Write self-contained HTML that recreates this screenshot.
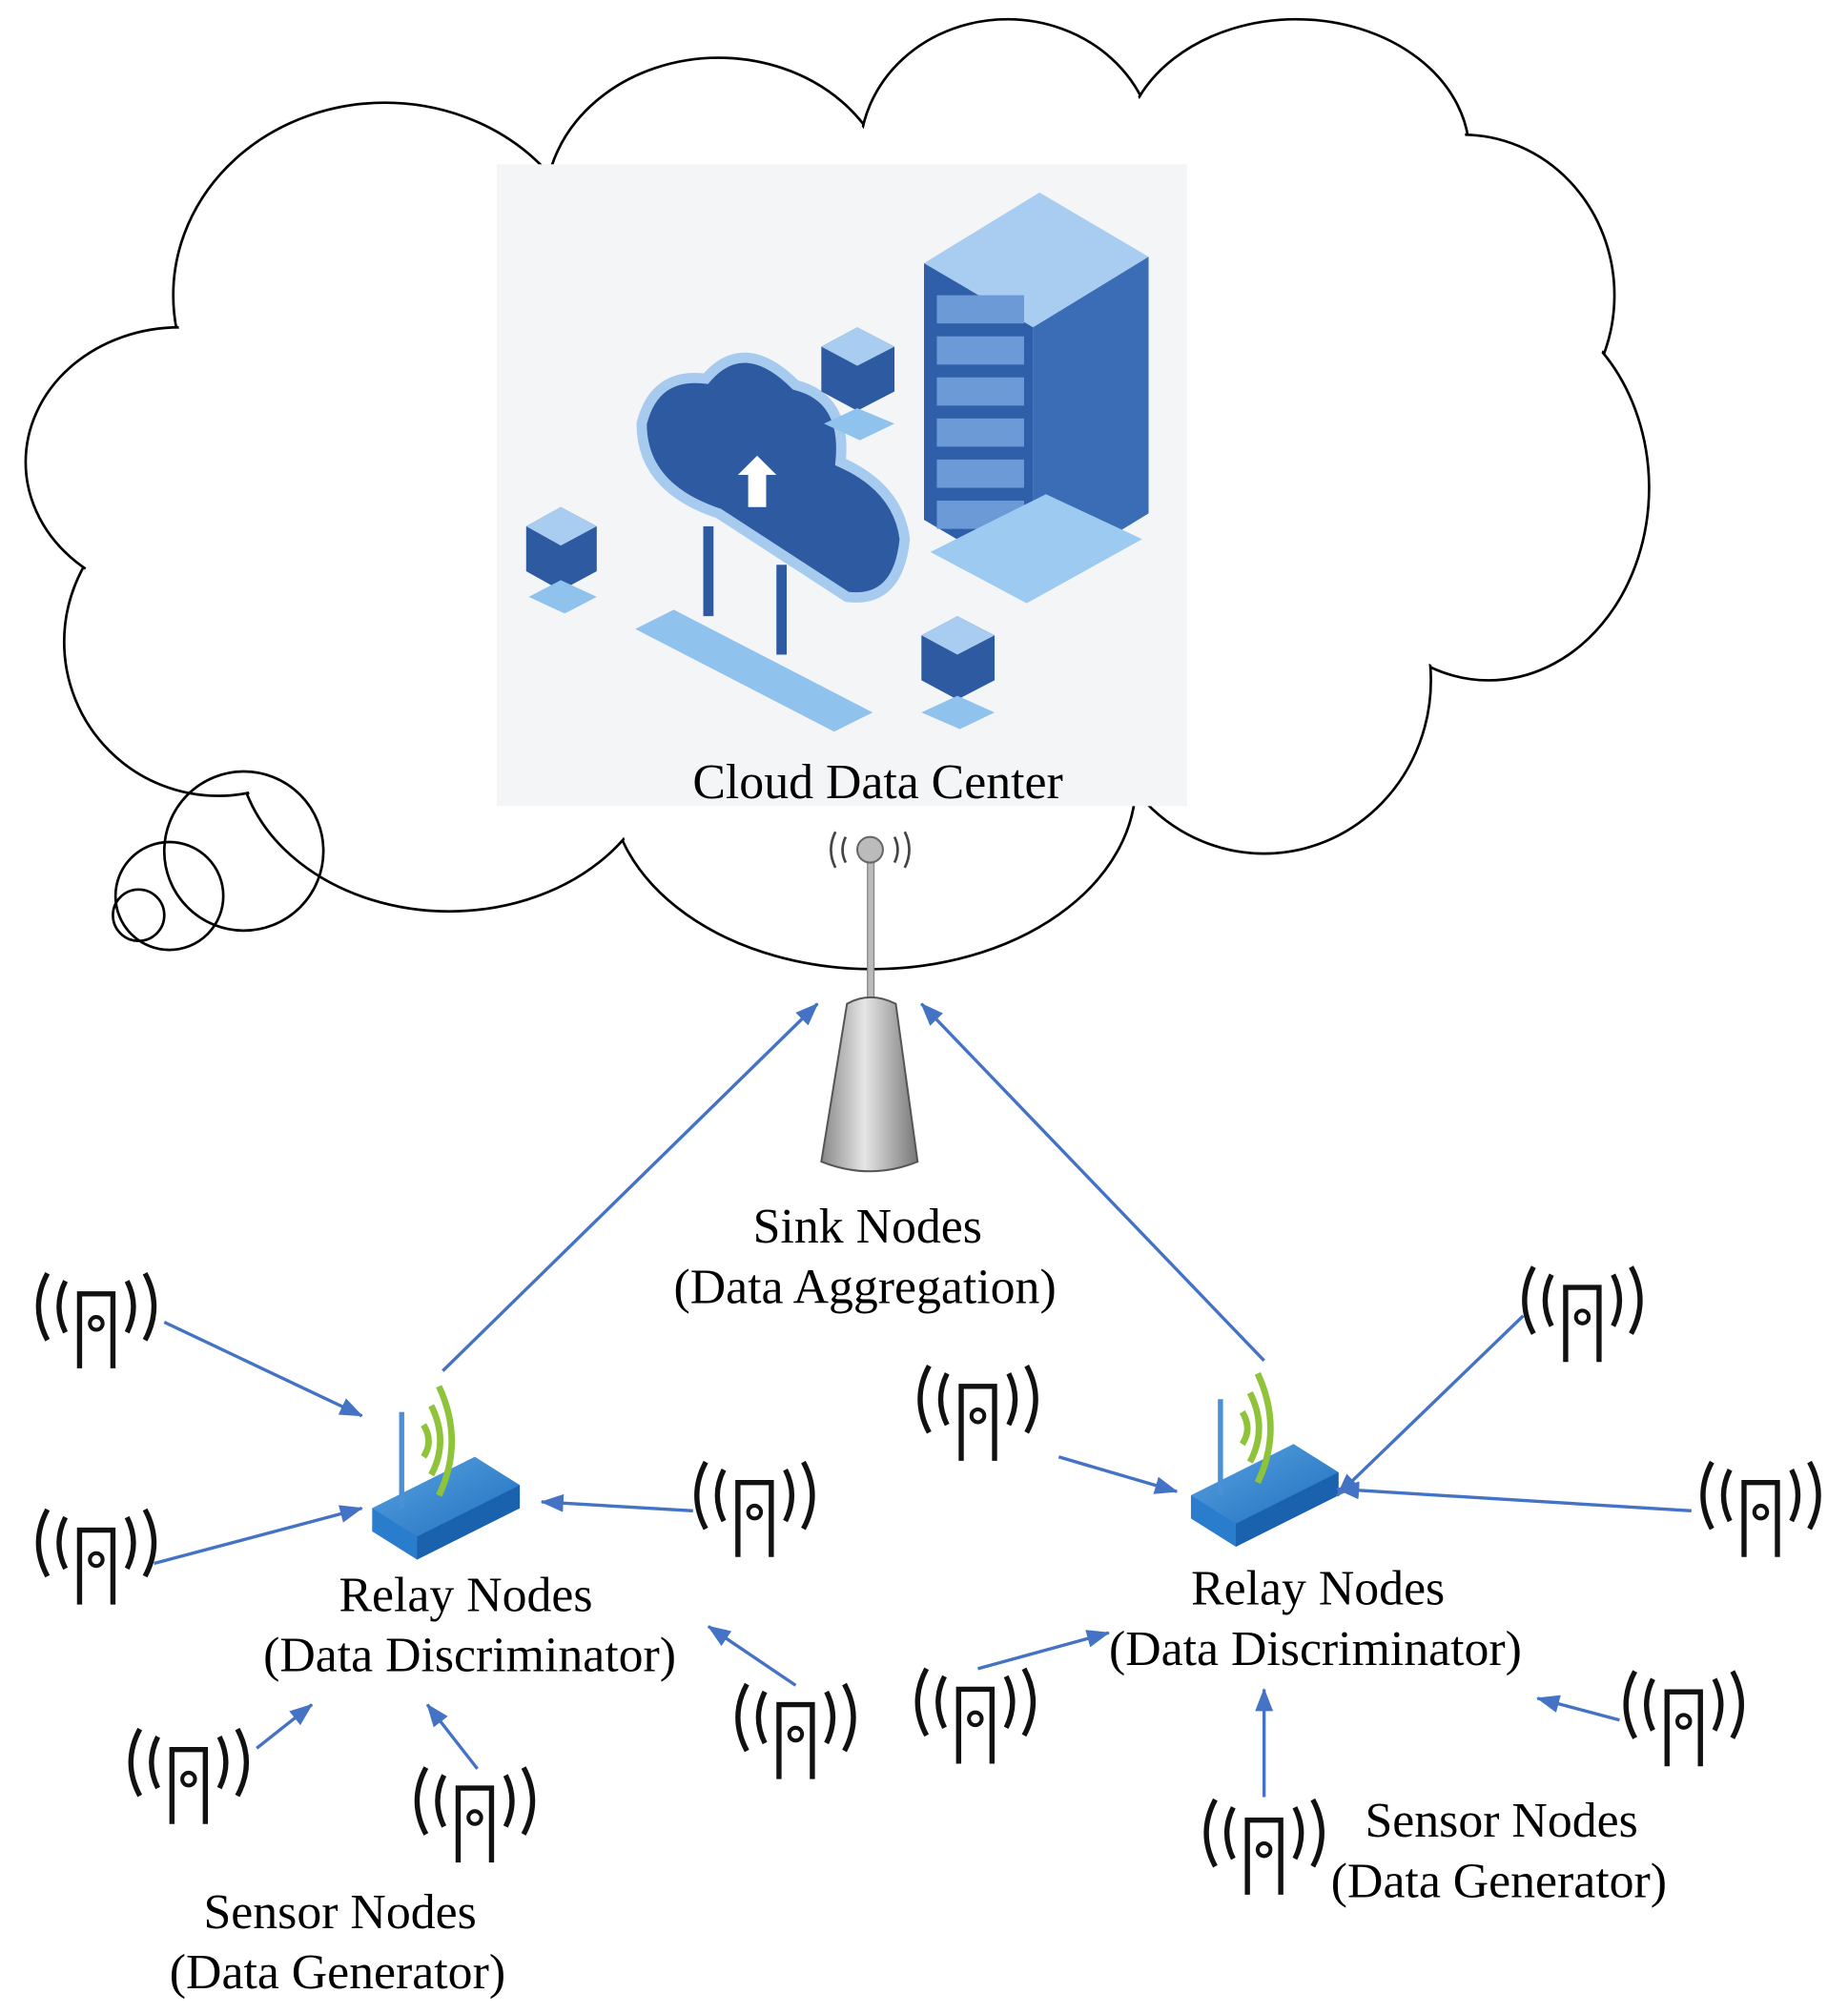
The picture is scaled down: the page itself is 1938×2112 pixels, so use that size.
<!DOCTYPE html>
<html><head><meta charset="utf-8"><style>html,body{margin:0;padding:0;background:#fff}svg{display:block}text{font-family:"Liberation Serif",serif;font-size:38.5px;fill:#000}</style></head><body>
<svg width="1938" height="2112" viewBox="0 0 1440 1569" preserveAspectRatio="none" xmlns="http://www.w3.org/2000/svg">
<defs>
<marker id="ah" markerWidth="18" markerHeight="14" refX="17" refY="7" orient="auto" markerUnits="userSpaceOnUse" viewBox="0 0 18 14"><path d="M0,0 L18,7 L0,14 z" fill="#4472c4"/></marker>
<linearGradient id="cone" x1="0" x2="1"><stop offset="0" stop-color="#888"/><stop offset="0.45" stop-color="#e6e6e6"/><stop offset="1" stop-color="#777"/></linearGradient>
<linearGradient id="rt" x1="0" x2="1" y1="0" y2="1"><stop offset="0" stop-color="#5aa3e0"/><stop offset="1" stop-color="#1f6fc0"/></linearGradient>
<g id="sensor" fill="none" stroke="#111" stroke-width="4">
<path d="M-13,58 V0 H13 V58"/><circle cx="0" cy="23" r="5" stroke-width="3"/>
<path d="M-24,-10 Q-34,10 -24,30"/><path d="M-38,-16 Q-52,10 -38,36"/>
<path d="M24,-10 Q34,10 24,30"/><path d="M38,-16 Q52,10 38,36"/>
</g>
<g id="router">
<path d="M0,40 L80,0 L115,22 L115,40 L35,80 L0,58 z" fill="#2a7ccc"/>
<path d="M0,40 L80,0 L115,22 L35,62 z" fill="url(#rt)"/>
<path d="M35,62 L115,22 L115,40 L35,80 z" fill="#1b62ae"/>
<rect x="21" y="-35" width="4" height="75" fill="#4a90d8"/>
<g fill="none" stroke="#8ec33a" stroke-width="5"><path d="M40,-25 Q48,-12 40,0"/><path d="M46,-40 Q60,-12 46,14"/><path d="M52,-55 Q72,-12 52,30"/></g>
</g>
</defs>
<g fill="#fff" stroke="#000" stroke-width="2">
<ellipse cx="300" cy="230" rx="165" ry="150"/><ellipse cx="560" cy="160" rx="135" ry="115"/><ellipse cx="785" cy="120" rx="115" ry="105"/><ellipse cx="1010" cy="120" rx="135" ry="105"/><ellipse cx="1140" cy="230" rx="118" ry="125"/><ellipse cx="1160" cy="380" rx="125" ry="150"/><ellipse cx="985" cy="530" rx="130" ry="135"/><ellipse cx="680" cy="610" rx="205" ry="145"/><ellipse cx="350" cy="580" rx="165" ry="130"/><ellipse cx="170" cy="500" rx="120" ry="120"/><ellipse cx="140" cy="360" rx="120" ry="105"/>
</g>
<g fill="#fff"><ellipse cx="300" cy="230" rx="163" ry="148"/><ellipse cx="560" cy="160" rx="133" ry="113"/><ellipse cx="785" cy="120" rx="113" ry="103"/><ellipse cx="1010" cy="120" rx="133" ry="103"/><ellipse cx="1140" cy="230" rx="116" ry="123"/><ellipse cx="1160" cy="380" rx="123" ry="148"/><ellipse cx="985" cy="530" rx="128" ry="133"/><ellipse cx="680" cy="610" rx="203" ry="143"/><ellipse cx="350" cy="580" rx="163" ry="128"/><ellipse cx="170" cy="500" rx="118" ry="118"/><ellipse cx="140" cy="360" rx="118" ry="103"/><rect x="200" y="150" width="880" height="450"/></g>
<g fill="none" stroke="#000" stroke-width="2"><circle cx="190" cy="663" r="62"/><circle cx="132" cy="698" r="42"/><circle cx="108" cy="713" r="20"/></g>
<rect x="387" y="128" width="538" height="500" fill="#f4f5f6"/>
<g>
<path d="M720,205 L810,150 L895,200 L805,255 z" fill="#a9cdf0"/>
<path d="M720,205 L805,255 L805,455 L720,405 z" fill="#2f5fa8"/>
<path d="M805,255 L895,200 L895,400 L805,455 z" fill="#3a6db5"/>
<g fill="#6b9ad6"><rect x="730" y="230" width="68" height="22"/><rect x="730" y="262" width="68" height="22"/><rect x="730" y="294" width="68" height="22"/><rect x="730" y="326" width="68" height="22"/><rect x="730" y="358" width="68" height="22"/><rect x="730" y="390" width="68" height="22"/></g>
<path d="M725,430 L800,470 L890,420 L815,385 z" fill="#9dcaf0"/>
<path d="M500,330 Q510,290 550,295 Q580,260 620,300 Q660,310 655,360 Q700,380 705,420 Q700,470 660,465 L560,400 Q500,380 500,330 z" fill="#2d5aa0" stroke="#a6cbef" stroke-width="8"/>
<path d="M575,370 L590,355 L605,370 L597,370 L597,395 L583,395 L583,370 z" fill="#fff"/>
<rect x="548" y="410" width="8" height="70" fill="#2d5aa0"/><rect x="605" y="440" width="8" height="70" fill="#2d5aa0"/>
<path d="M495,490 L525,475 L680,555 L650,570 z" fill="#8fc2ec"/>
<path d="M410,410 L437,395 L465,410 L465,445 L437,460 L410,445 z" fill="#2d5aa0"/><path d="M410,410 L437,395 L465,410 L437,425 z" fill="#a9cdf0"/>
<path d="M640,270 L668,255 L697,270 L697,305 L668,320 L640,305 z" fill="#2d5aa0"/><path d="M640,270 L668,255 L697,270 L668,285 z" fill="#a9cdf0"/>
<path d="M718,495 L746,480 L775,495 L775,530 L746,545 L718,530 z" fill="#2d5aa0"/><path d="M718,495 L746,480 L775,495 L746,510 z" fill="#a9cdf0"/>
<path d="M412,465 L437,452 L465,465 L440,478 z M718,555 L746,542 L775,555 L748,568 z M642,330 L668,318 L697,330 L670,343 z" fill="#8fc2ec"/>
</g>
<text x="684" y="622" text-anchor="middle">Cloud Data Center</text>
<g fill="none" stroke="#444" stroke-width="2"><path d="M659,652 Q654,662 659,672"/><path d="M697,652 Q702,662 697,672"/><path d="M651,648 Q644,662 651,676"/><path d="M705,648 Q712,662 705,676"/></g>
<rect x="676" y="668" width="5" height="115" fill="#bbb" stroke="#888" stroke-width="1"/>
<circle cx="678" cy="662" r="10" fill="#bbb" stroke="#666" stroke-width="1.5"/>
<path d="M660,782 Q678,772 698,782 L715,905 Q678,920 640,905 z" fill="url(#cone)" stroke="#555" stroke-width="1.5"/>
<text x="676" y="968" text-anchor="middle">Sink Nodes</text>
<text x="674" y="1015" text-anchor="middle">(Data Aggregation)</text>
<use href="#router" x="290" y="1135"/>
<use href="#router" x="928" y="1125"/>
<text x="363" y="1255" text-anchor="middle">Relay Nodes</text>
<text x="366" y="1302" text-anchor="middle">(Data Discriminator)</text>
<text x="1027" y="1250" text-anchor="middle">Relay Nodes</text>
<text x="1025" y="1297" text-anchor="middle">(Data Discriminator)</text>
<text x="265" y="1502" text-anchor="middle">Sensor Nodes</text>
<text x="263" y="1549" text-anchor="middle">(Data Generator)</text>
<text x="1170" y="1431" text-anchor="middle">Sensor Nodes</text>
<text x="1168" y="1478" text-anchor="middle">(Data Generator)</text>
<use href="#sensor" x="75" y="1008"/><use href="#sensor" x="75" y="1192"/><use href="#sensor" x="588" y="1155"/><use href="#sensor" x="620" y="1328"/><use href="#sensor" x="147" y="1363"/><use href="#sensor" x="370" y="1393"/><use href="#sensor" x="762" y="1080"/><use href="#sensor" x="760" y="1316"/><use href="#sensor" x="1233" y="1003"/><use href="#sensor" x="1372" y="1155"/><use href="#sensor" x="1312" y="1318"/><use href="#sensor" x="985" y="1418"/>
<g stroke="#4472c4" stroke-width="2.5" fill="none" marker-end="url(#ah)">
<line x1="345" y1="1068" x2="637" y2="782"/><line x1="985" y1="1060" x2="718" y2="782"/>
<line x1="128" y1="1030" x2="282" y2="1103"/><line x1="120" y1="1218" x2="282" y2="1175"/>
<line x1="540" y1="1177" x2="422" y2="1170"/><line x1="620" y1="1313" x2="552" y2="1267"/>
<line x1="200" y1="1362" x2="243" y2="1328"/><line x1="372" y1="1378" x2="333" y2="1328"/>
<line x1="825" y1="1135" x2="917" y2="1162"/><line x1="1187" y1="1025" x2="1042" y2="1165"/>
<line x1="1318" y1="1177" x2="1042" y2="1160"/><line x1="762" y1="1300" x2="864" y2="1272"/>
<line x1="985" y1="1400" x2="985" y2="1316"/><line x1="1262" y1="1340" x2="1198" y2="1323"/>
</g>
</svg>
</body></html>
